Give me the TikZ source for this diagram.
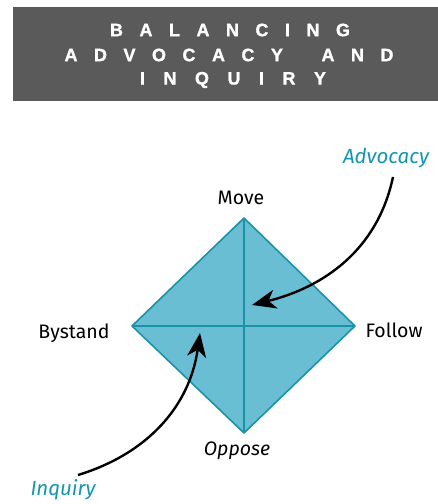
\documentclass[tikz,border=0pt]{standalone}
\usepackage{fontspec}
\setmainfont{Fira Sans}
\newfontfamily\bannerfont[FakeBold=1.2]{Liberation Sans Bold}
\usetikzlibrary{arrows.meta}
\definecolor{bannergray}{RGB}{90,90,90}
\definecolor{quadfill}{RGB}{106,190,212}
\definecolor{quadline}{RGB}{26,147,168}
\definecolor{calltext}{RGB}{20,150,175}
\tikzset{
  banner/.style={text=white, font=\bannerfont\fontsize{18}{25}\selectfont},
  pole/.style={font=\fontsize{19.5}{22}\selectfont},
  callout/.style={text=calltext, font=\itshape\fontsize{20.5}{22}\selectfont},
  pointer/.style={line width=2.4pt, -{Stealth[length=24pt,width=19pt,inset=7pt]}}
}
\newcommand{\spaced}[2][16.5pt]{\spaceskip=#1\relax #2}
\begin{document}
\begin{tikzpicture}[x=1pt,y=-1pt]
          \useasboundingbox (0,0) rectangle (438,504);
          \fill[bannergray] (13,7) rectangle (438,101);

          \node[banner] (title1) at (230,30) {\spaced{B A L A N C I N G}};
          \node[banner] (title2) at (229,55) {\spaced{A D V O C A C Y\hspace{22pt} A N D}};
          \node[banner] (title3) at (233,80) {\spaced[18.5pt]{I N Q U I R Y}};

          \coordinate (top)    at (244,218);
          \coordinate (left)   at (132,326);
          \coordinate (right)  at (355,326);
          \coordinate (bottom) at (244,433);

          \filldraw[fill=quadfill, draw=quadline, line width=1.6pt, line join=round] (top) -- (right) -- (bottom) -- (left) -- cycle;
          \draw[quadline, line width=1.6pt] (top) -- (bottom);
          \draw[quadline, line width=1.6pt] (left) -- (right);

          \node[pole] (move)    at (241,198) {Move};
          \node[pole] (bystand) at (74,333)  {Bystand};
          \node[pole] (follow)  at (394,330) {Follow};
          \node[pole, font=\itshape\fontsize{19.5}{22}\selectfont] (oppose) at (237,451) {Oppose};

          \node[callout] (advocacy) at (386,158) {Advocacy};
          \node[callout] (inquiry)  at (63,490)  {Inquiry};

          \coordinate (advstart) at (393,177);
          \coordinate (advend)   at (252,305);
          \coordinate (inqstart) at (78,475);
          \coordinate (inqend)   at (200,333);

          \draw[pointer] (advstart) to[out=-102, in=14] (advend);
          \draw[pointer] (inqstart) to[out=17, in=-98] (inqend);
        \end{tikzpicture}
\end{document}
